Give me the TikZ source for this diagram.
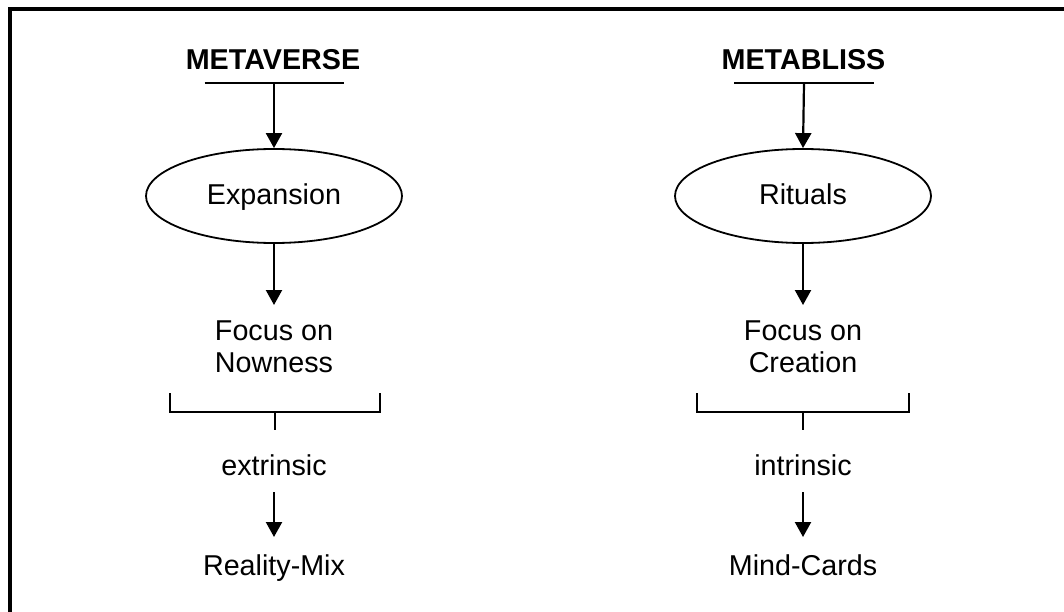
\documentclass[tikz,border=0pt]{standalone}
\usepackage{fontspec}
\setmainfont{Liberation Sans}
\usetikzlibrary{arrows.meta,positioning,shapes.geometric}
\tikzset{heading/.style={font=\fontsize{28.7}{32}\selectfont\bfseries,inner sep=0pt,anchor=base},
  txt/.style={font=\fontsize{28.7}{32}\selectfont,inner sep=0pt,align=center},
  oval/.style={ellipse,draw,line width=1.8pt,minimum width=256pt,minimum height=94pt,
  inner sep=0pt,text height=20.5pt,text depth=2.5pt,font=\fontsize{28.7}{32}\selectfont},
  flow/.style={-{Triangle[length=15pt,width=16pt]},line width=2.2pt},
  bar/.style={line width=2pt}}
\begin{document}
\begin{tikzpicture}[x=1pt,y=-1pt]
\useasboundingbox (0,0) rectangle (1064,612);
\draw[line width=4pt] (9.5,612) -- (9.5,9.5) -- (1064,9.5);
% left column
\node[heading] (mv) at (273,70) {METAVERSE};
\coordinate (mvbar) at (274,83);
\draw[bar] ([xshift=-69.5pt]mvbar) -- ([xshift=69.5pt]mvbar);
\node[oval] (exp) at (274,196) {Expansion};
\draw[flow] (mvbar) -- (exp.north);
\node[txt,anchor=north] (now) at (274,320.5) {Focus on\\Nowness};
\draw[flow,shorten >=15.5pt] (exp.south) -- (now.north);
\coordinate (mvbr) at (275,412);
\draw[bar] (mvbr) +(-105,-19) -- +(-105,0) -- +(105,0) -- +(105,-19);
\draw[bar] (mvbr) -- +(0,18);
\node[txt,anchor=base] (ext) at (274,475) {extrinsic};
\node[txt,anchor=base] (rm) at (274,575.5) {Reality-Mix};
\draw[flow,shorten <=17pt,shorten >=17.5pt] (ext.south) -- (rm.north);
% right column
\node[heading] (mb) at (803.5,70) {METABLISS};
\coordinate (mbbar) at (804,83);
\draw[bar] ([xshift=-70pt]mbbar) -- ([xshift=70pt]mbbar);
\node[oval] (rit) at (803,196) {Rituals};
\draw[flow] (mbbar) -- (rit.north);
\node[txt,anchor=north] (cre) at (803,320.5) {Focus on\\Creation};
\draw[flow,shorten >=15.5pt] (rit.south) -- (cre.north);
\coordinate (mbbr) at (803,412);
\draw[bar] (mbbr) +(-106,-19) -- +(-106,0) -- +(106,0) -- +(106,-19);
\draw[bar] (mbbr) -- +(0,18);
\node[txt,anchor=base] (int) at (803,475) {intrinsic};
\node[txt,anchor=base] (mc) at (803,575.5) {Mind-Cards};
\draw[flow,shorten <=17pt,shorten >=17.5pt] (int.south) -- (mc.north);
\end{tikzpicture}
\end{document}
